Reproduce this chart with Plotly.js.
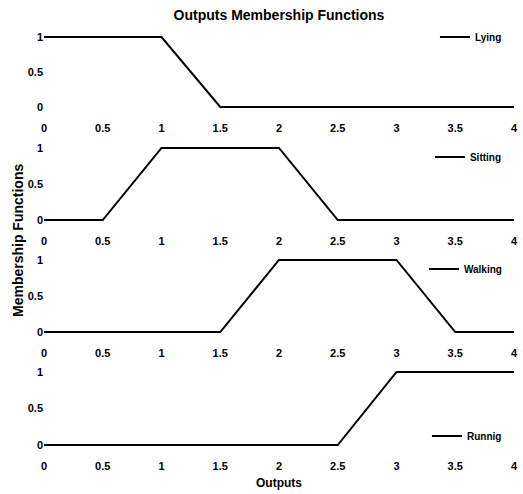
<!DOCTYPE html>
<html>
<head>
<meta charset="utf-8">
<script src="https://cdn.plot.ly/plotly-3.0.1.min.js"></script>
<style>html,body{margin:0;padding:0;background:#fff;}#chart{width:523px;height:494px;}</style>
</head>
<body>
<div id="chart"></div>
<script>
// Data
const seriesNames = ["Lying", "Sitting", "Walking", "Runnig"];
const lyingX = [0, 1, 1.5, 4];
const lyingY = [1, 1, 0, 0];
const sittingX = [0, 0.5, 1, 2, 2.5, 4];
const sittingY = [0, 0, 1, 1, 0, 0];
const walkingX = [0, 1.5, 2, 3, 3.5, 4];
const walkingY = [0, 0, 1, 1, 0, 0];
const runningX = [0, 2.5, 3, 4];
const runningY = [0, 0, 1, 1];
const xTickVals = [0, 0.5, 1, 1.5, 2, 2.5, 3, 3.5, 4];
const xTickText = ["0", "0.5", "1", "1.5", "2", "2.5", "3", "3.5", "4"];
const yTickVals = [0, 0.5, 1];
const yTickText = ["0", "0.5", "1"];

const FONT = "Liberation Sans, Arial, sans-serif";
const xs = [lyingX, sittingX, walkingX, runningX];
const ys = [lyingY, sittingY, walkingY, runningY];

const traces = xs.map((x, i) => ({
  x: x, y: ys[i], type: "scatter", mode: "lines", name: seriesNames[i],
  line: {color: "#000", width: 2},
  xaxis: i === 0 ? "x" : "x" + (i + 1),
  yaxis: i === 0 ? "y" : "y" + (i + 1),
  legend: i === 0 ? "legend" : "legend" + (i + 1),
  showlegend: true
}));

const domains = [[0.8137, 0.9882], [0.5467, 0.7269], [0.2825, 0.4627], [0.016, 0.1986]];
const legendY = [0.9835, 0.7005, 0.4363, 0.0425];

const layout = {
  width: 523, height: 494,
  margin: {l: 44, r: 9, t: 30, b: 40},
  paper_bgcolor: "#fff", plot_bgcolor: "#fff",
  font: {family: FONT, color: "#000"},
  title: {text: "Outputs Membership Functions", x: 0.5, xref: "paper", y: 1 - 15 / 494, yref: "container", yanchor: "middle",
          font: {family: FONT, size: 14, weight: "bold", color: "#000"}},
  annotations: [
    {text: "Outputs", xref: "paper", yref: "paper", x: 0.5, y: (454 - 483) / 424, xanchor: "center", yanchor: "middle",
     showarrow: false, font: {family: FONT, size: 12, weight: "bold", color: "#000"}},
    {text: "Membership Functions", xref: "paper", yref: "paper", x: (18 - 44) / 470, y: (454 - 241) / 424, xanchor: "center", yanchor: "middle",
     textangle: -90, showarrow: false, font: {family: FONT, size: 14, weight: "bold", color: "#000"}}
  ]
};

for (let i = 0; i < 4; i++) {
  const sx = i === 0 ? "" : String(i + 1);
  layout["xaxis" + sx] = {
    domain: [0, 1], range: [0, 4], anchor: "y" + sx,
    tickmode: "array", tickvals: xTickVals, ticktext: xTickText,
    ticks: "outside", ticklen: 9, tickcolor: "rgba(0,0,0,0)",
    showgrid: false, zeroline: false, showline: false,
    tickfont: {family: FONT, size: 11, weight: "bold", color: "#000"}
  };
  layout["yaxis" + sx] = {
    domain: domains[i], range: [-0.03, 1.03], anchor: "x" + sx,
    tickmode: "array", tickvals: yTickVals, ticktext: yTickText,
    ticks: "", showgrid: false, zeroline: false, showline: false,
    tickfont: {family: FONT, size: 11, weight: "bold", color: "#000"}
  };
  layout["legend" + sx] = {
    x: 0.985, xanchor: "right", y: legendY[i], yanchor: "middle",
    bgcolor: "rgba(0,0,0,0)", borderwidth: 0,
    font: {family: FONT, size: 10, weight: "bold", color: "#000"}
  };
}

Plotly.newPlot("chart", traces, layout, {displayModeBar: false, staticPlot: true});
</script>
</body>
</html>
